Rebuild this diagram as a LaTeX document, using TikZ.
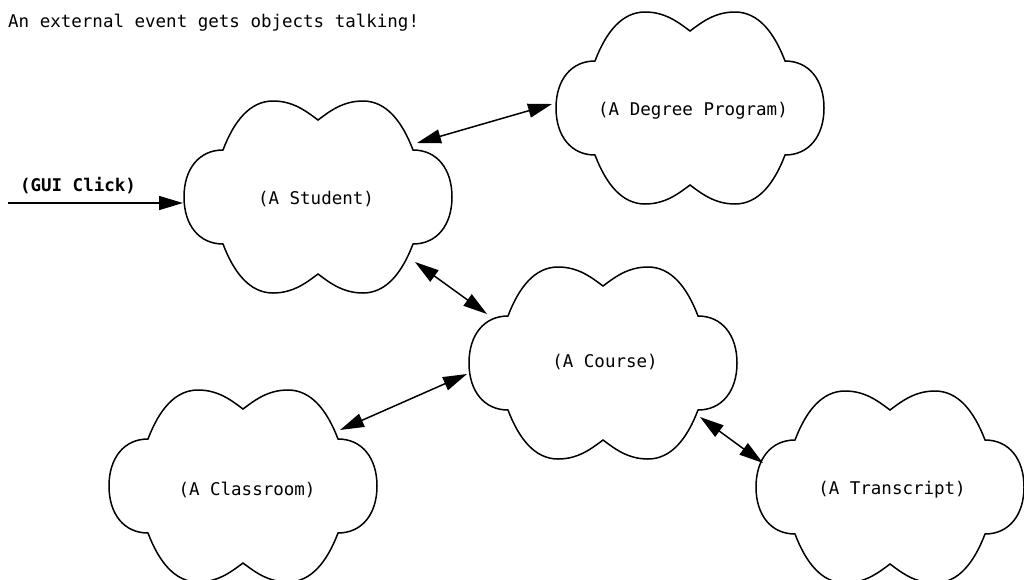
\documentclass[tikz,border=0pt]{standalone}
\usepackage{fontspec}
\newfontfamily\dmono{DejaVu Sans Mono}
\usetikzlibrary{arrows.meta}
\tikzset{
  cloudshape/.pic={
    \draw[line width=1.5pt, fill=white] (-95,-47) .. controls (-84,-76) and (-68,-96) .. (-45,-96)
      .. controls (-25,-96) and (-12,-86) .. (0,-77)
      .. controls (12,-86) and (25,-96) .. (45,-96)
      .. controls (68,-96) and (84,-76) .. (95,-47)
      .. controls (119,-47) and (134,-28) .. (134,0)
      .. controls (134,28) and (119,47) .. (95,47)
      .. controls (84,76) and (68,96) .. (45,96)
      .. controls (25,96) and (12,86) .. (0,77)
      .. controls (-12,86) and (-25,96) .. (-45,96)
      .. controls (-68,96) and (-84,76) .. (-95,47)
      .. controls (-119,47) and (-134,28) .. (-134,0)
      .. controls (-134,-28) and (-119,-47) .. (-95,-47) -- cycle;
  },
  labeltext/.style={font=\dmono\fontsize{17.5}{20}\selectfont, inner sep=0pt},
  twoway/.style={line width=1.5pt, {Triangle[length=24pt,width=14pt]}-{Triangle[length=24pt,width=14pt]}},
  oneway/.style={line width=1.5pt, -{Triangle[length=24pt,width=14pt]}},
}
\begin{document}
\begin{tikzpicture}[x=1pt,y=-1pt]
\useasboundingbox[fill=white] (0,0) rectangle (1024,579);

% clouds
\pic at (318,197) {cloudshape};
\pic at (690,108) {cloudshape};
\pic at (603,363) {cloudshape};
\pic at (243,486) {cloudshape};
\pic at (890,487) {cloudshape};

\node[labeltext] (student) at (316,199) {(A Student)};
\node[labeltext] (degree) at (693,111) {(A Degree Program)};
\node[labeltext] (course) at (605,362) {(A Course)};
\node[labeltext] (classroom) at (247,490) {(A Classroom)};
\node[labeltext] (transcript) at (892,490) {(A Transcript)};

\node[labeltext, anchor=base west] (title) at (8,27) {An external event gets objects talking!};
\node[labeltext, font=\dmono\bfseries\fontsize{17.5}{20}\selectfont] (gui) at (78,186) {(GUI Click)};

% connector ends on the cloud outlines
\coordinate (guistart) at (8,203);
\coordinate (student-w) at (183,203);
\coordinate (student-ne) at (417,143);
\coordinate (degree-w) at (552,104);
\coordinate (student-se) at (415,262);
\coordinate (course-nw) at (487,314);
\coordinate (course-w) at (467,374);
\coordinate (classroom-ne) at (340,430);
\coordinate (course-se) at (700,417);
\coordinate (transcript-nw) at (763,463);

\draw[oneway] (guistart) -- (student-w);
\draw[twoway] (student-ne) -- (degree-w);
\draw[twoway] (student-se) -- (course-nw);
\draw[twoway] (classroom-ne) -- (course-w);
\draw[twoway] (course-se) -- (transcript-nw);
\end{tikzpicture}
\end{document}
